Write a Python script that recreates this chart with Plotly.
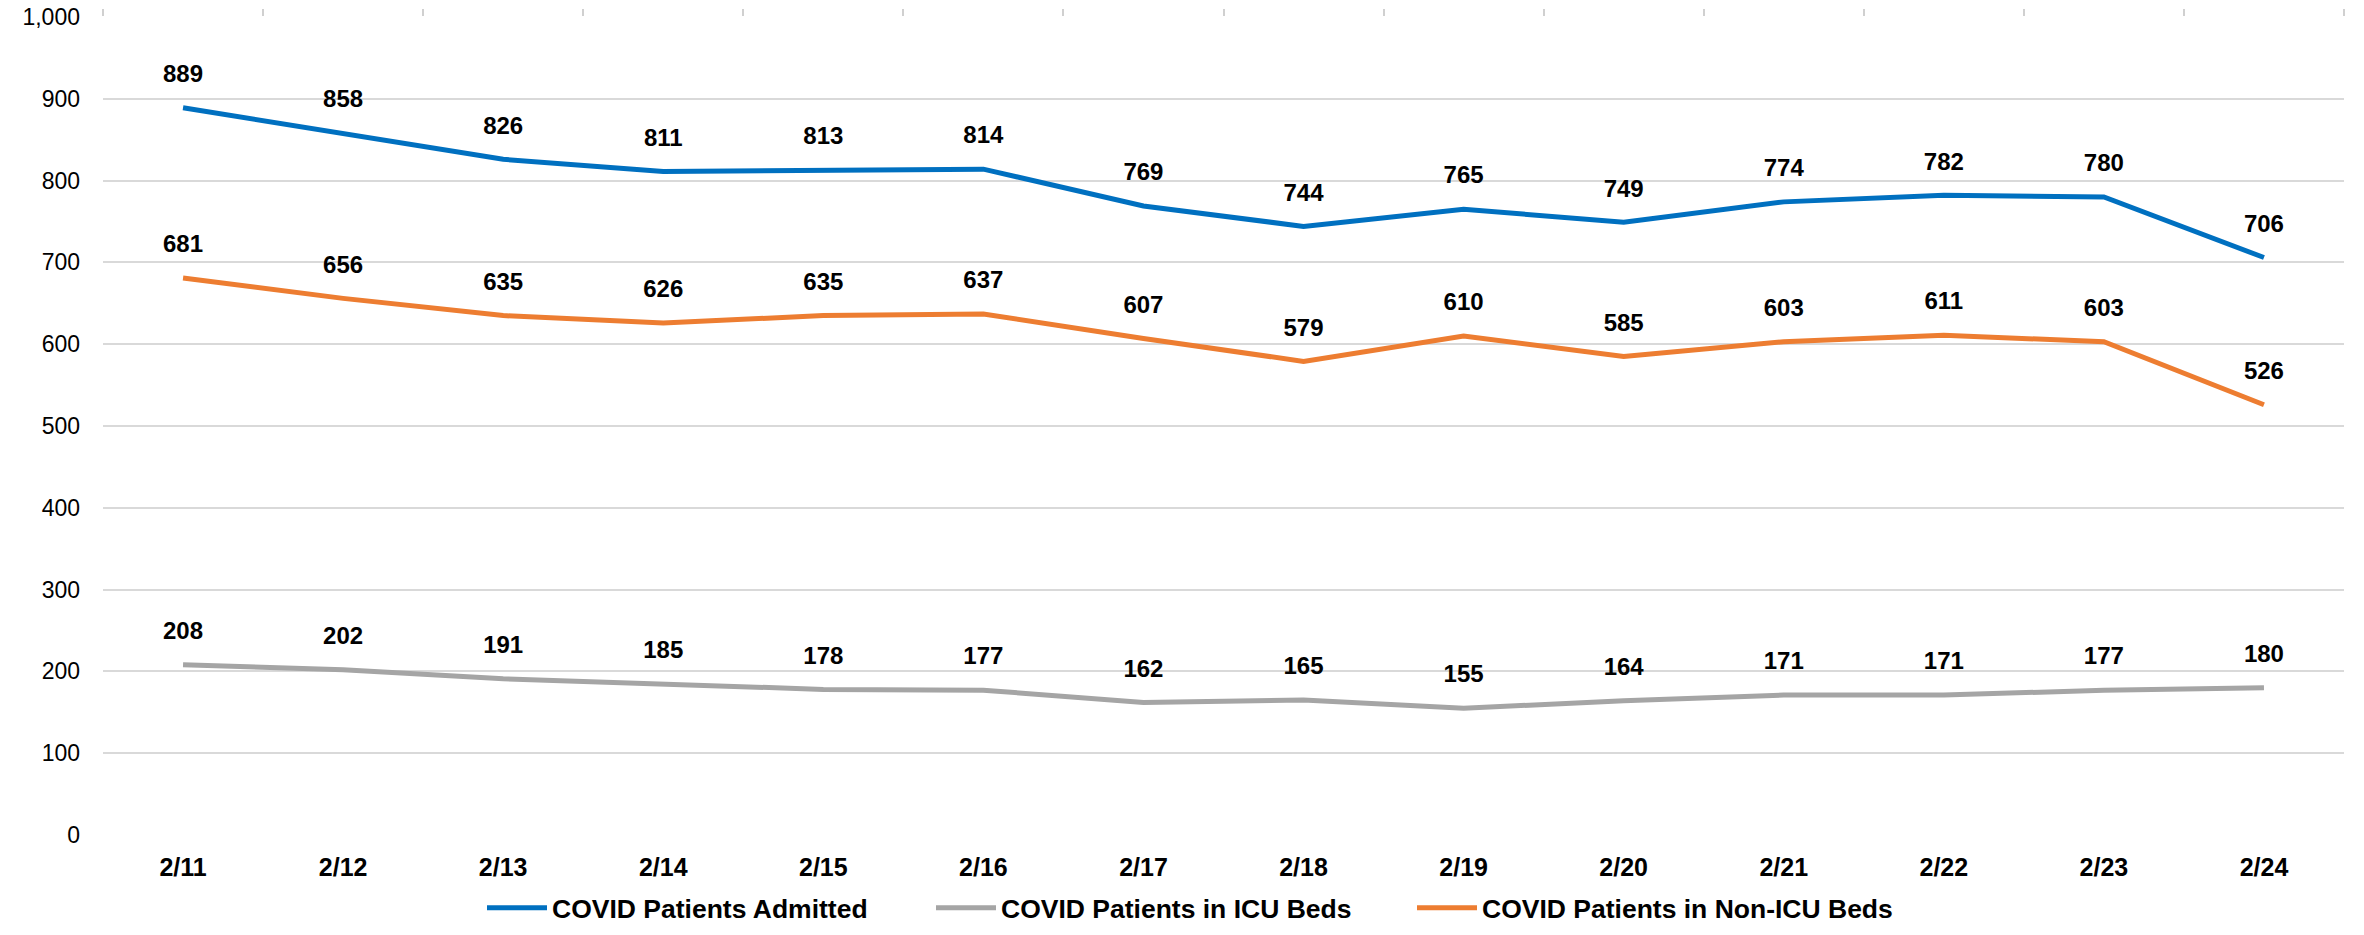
import plotly.graph_objects as go

dates = ["2/11", "2/12", "2/13", "2/14", "2/15", "2/16", "2/17", "2/18", "2/19", "2/20", "2/21", "2/22", "2/23", "2/24"]
admitted = [889, 858, 826, 811, 813, 814, 769, 744, 765, 749, 774, 782, 780, 706]
icu = [208, 202, 191, 185, 178, 177, 162, 165, 155, 164, 171, 171, 177, 180]
non_icu = [681, 656, 635, 626, 635, 637, 607, 579, 610, 585, 603, 611, 603, 526]
y_ticks = [0, 100, 200, 300, 400, 500, 600, 700, 800, 900, 1000]

series = [
    ("COVID Patients Admitted", admitted, "#0070C0"),
    ("COVID Patients in ICU Beds", icu, "#A5A5A5"),
    ("COVID Patients in Non-ICU Beds", non_icu, "#ED7D31"),
]
legend_ids = ["legend", "legend2", "legend3"]
legend_left_px = [482, 931, 1412]

FONT = "Liberation Sans, Arial"

fig = go.Figure()
for (name, vals, color), lid in zip(series, legend_ids):
    fig.add_trace(go.Scatter(
        x=dates, y=vals, name=name, legend=lid,
        mode="lines+markers+text",
        line=dict(color=color, width=5),
        marker=dict(size=30, color="rgba(0,0,0,0)"),
        text=[str(v) for v in vals],
        textposition="top center",
        textfont=dict(family=FONT, size=24, color="#000000", weight="bold"),
        cliponaxis=False,
        hoverinfo="x+y+name",
    ))

# invisible trace on a top axis to get the category boundary tick marks
fig.add_trace(go.Scatter(x=dates, y=[None] * len(dates), xaxis="x2", showlegend=False,
                         mode="lines", hoverinfo="skip"))

W, H = 2364, 935
legend_style = dict(orientation="h", xanchor="left", xref="container",
                    y=1 - 908 / H, yanchor="middle", yref="container",
                    font=dict(size=26.5, family=FONT, color="#000000", weight="bold"),
                    itemwidth=60, bgcolor="rgba(0,0,0,0)")

n = len(dates)
fig.update_layout(
    width=W, height=H,
    margin=dict(l=103, r=20, t=17, b=100, autoexpand=False),
    plot_bgcolor="white", paper_bgcolor="white",
    font=dict(family=FONT, color="#000000"),
    showlegend=True,
    legend=dict(x=legend_left_px[0] / W, **legend_style),
    legend2=dict(x=legend_left_px[1] / W, **legend_style),
    legend3=dict(x=legend_left_px[2] / W, **legend_style),
    xaxis=dict(type="category", categoryorder="array", categoryarray=dates,
               range=[-0.5, n - 0.5], automargin=False,
               showgrid=False, showline=False, zeroline=False, ticks="",
               tickfont=dict(size=25, family=FONT, color="#000000", weight="bold"),
               ticklabelstandoff=15),
    xaxis2=dict(type="category", categoryorder="array", categoryarray=dates,
                overlaying="x", side="top", showgrid=False, showline=False, zeroline=False,
                range=[-0.5, n - 0.5], automargin=False,
                ticks="outside", tickson="boundaries", ticklen=7, tickwidth=2, tickcolor="#d0d0d0",
                showticklabels=False),
    yaxis=dict(range=[0, 1000], tickvals=y_ticks, tickformat=",", automargin=False,
               showgrid=True, gridcolor="#d9d9d9", gridwidth=2, zeroline=False, showline=False,
               tickfont=dict(size=23, family=FONT, color="#000000"),
               ticklabelstandoff=22, ticklabeloverflow="allow"),
)

fig.write_html("out.html", config={"displayModeBar": False},
               post_script="document.body.style.margin='0';")
